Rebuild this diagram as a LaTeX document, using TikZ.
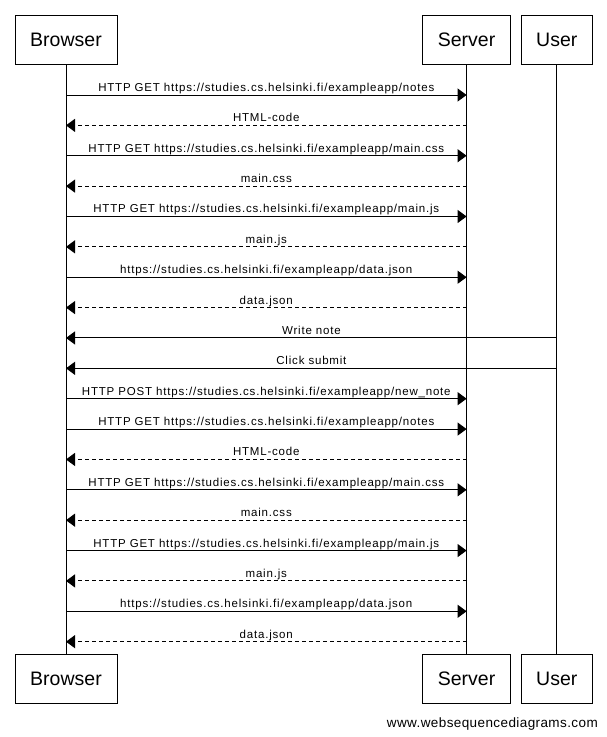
\documentclass[tikz,border=0pt]{standalone}
\usepackage{fontspec}
\setmainfont{Liberation Sans}
\newfontfamily\msgfont[LetterSpace=7]{Liberation Sans}
\newfontfamily\footfont[LetterSpace=3]{Liberation Sans}
\usetikzlibrary{arrows.meta,calc}
\begin{document}
\begin{tikzpicture}[x=1pt,y=-1pt,
  actor/.style={draw,line width=1pt,minimum height=49pt,inner sep=0pt,font=\fontsize{19.5}{22}\selectfont},
  life/.style={line width=1pt},
  msgline/.style={line width=1pt,-{Triangle[length=9pt,width=13pt]}},
  retline/.style={msgline,dash pattern=on 4pt off 3pt},
  lbl/.style={midway,anchor=base,yshift=3.5pt,inner sep=0pt,font=\msgfont\fontsize{11.5}{13}\selectfont}]
\useasboundingbox (0,0) rectangle (607,737);
% actors top
\node[actor,minimum width=102pt] (bt) at (66,39.5) {Browser};
\node[actor,minimum width=88.7pt] (st) at (466.6,39.5) {Server};
\node[actor,minimum width=71.3pt] (ut) at (556.8,39.5) {User};
% actors bottom
\node[actor,minimum width=102pt] (bb) at (66,678.5) {Browser};
\node[actor,minimum width=88.7pt] (sb) at (466.6,678.5) {Server};
\node[actor,minimum width=71.3pt] (ub) at (556.8,678.5) {User};
% lifelines
\draw[life] (bt.south) -- (bb.north);
\draw[life] (st.south) -- (sb.north);
\draw[life] (ut.south) -- (ub.north);
% row coordinates
\foreach \i in {0,...,18}{
  \coordinate (b\i) at (66,95+30.37*\i);
  \coordinate (s\i) at (466.6,95+30.37*\i);
  \coordinate (u\i) at (556.8,95+30.37*\i);
}
\draw[msgline] (b0) -- node[lbl]{HTTP GET https://studies.cs.helsinki.fi/exampleapp/notes} (s0);
\draw[retline] (s1) -- node[lbl]{HTML-code} (b1);
\draw[msgline] (b2) -- node[lbl]{HTTP GET https://studies.cs.helsinki.fi/exampleapp/main.css} (s2);
\draw[retline] (s3) -- node[lbl]{main.css} (b3);
\draw[msgline] (b4) -- node[lbl]{HTTP GET https://studies.cs.helsinki.fi/exampleapp/main.js} (s4);
\draw[retline] (s5) -- node[lbl]{main.js} (b5);
\draw[msgline] (b6) -- node[lbl]{https://studies.cs.helsinki.fi/exampleapp/data.json} (s6);
\draw[retline] (s7) -- node[lbl]{data.json} (b7);
\draw[msgline] (u8) -- node[lbl]{Write note} (b8);
\draw[msgline] (u9) -- node[lbl]{Click submit} (b9);
\draw[msgline] (b10) -- node[lbl]{HTTP POST https://studies.cs.helsinki.fi/exampleapp/new\_note} (s10);
\draw[msgline] (b11) -- node[lbl]{HTTP GET https://studies.cs.helsinki.fi/exampleapp/notes} (s11);
\draw[retline] (s12) -- node[lbl]{HTML-code} (b12);
\draw[msgline] (b13) -- node[lbl]{HTTP GET https://studies.cs.helsinki.fi/exampleapp/main.css} (s13);
\draw[retline] (s14) -- node[lbl]{main.css} (b14);
\draw[msgline] (b15) -- node[lbl]{HTTP GET https://studies.cs.helsinki.fi/exampleapp/main.js} (s15);
\draw[retline] (s16) -- node[lbl]{main.js} (b16);
\draw[msgline] (b17) -- node[lbl]{https://studies.cs.helsinki.fi/exampleapp/data.json} (s17);
\draw[retline] (s18) -- node[lbl]{data.json} (b18);
% footer
\node[anchor=base east,inner sep=0pt,font=\footfont\fontsize{13.5}{16}\selectfont] (foot) at (598,727.3) {www.websequencediagrams.com};
\end{tikzpicture}
\end{document}
